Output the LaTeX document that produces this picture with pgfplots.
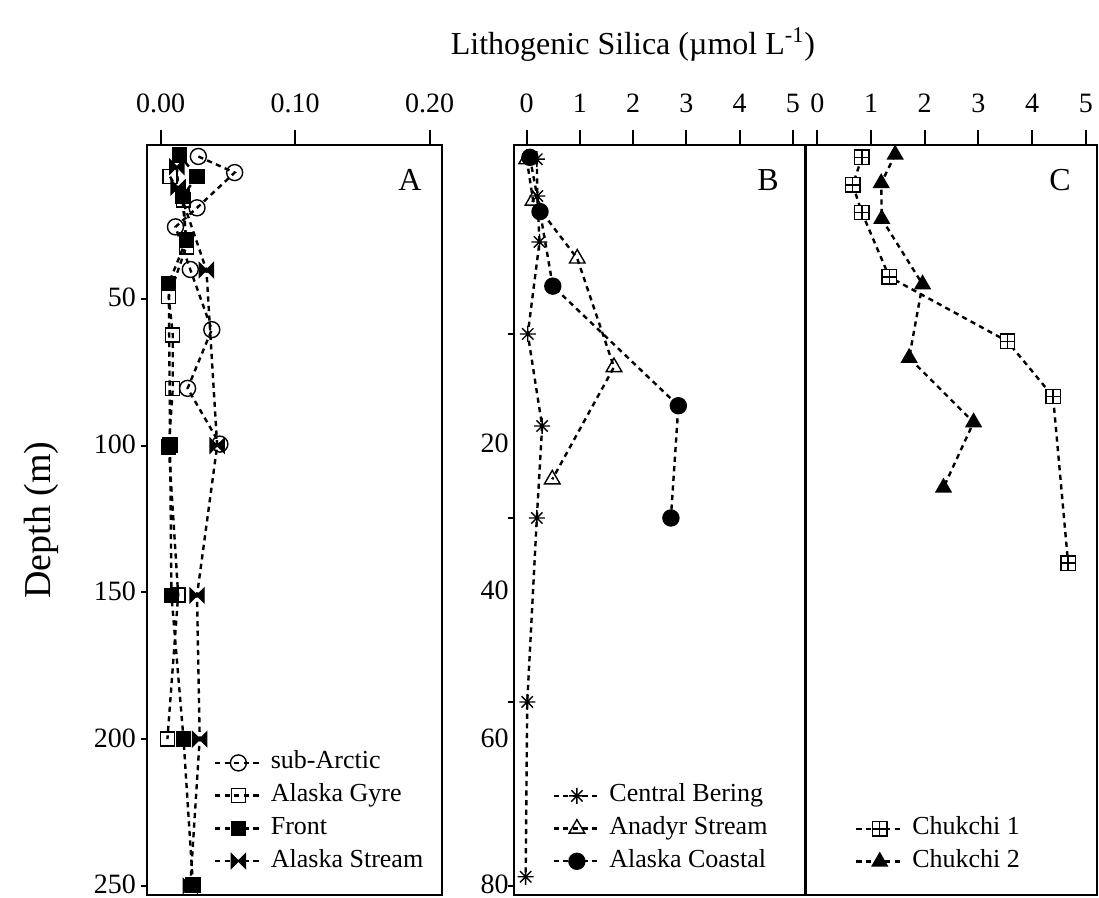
\documentclass[border=0pt]{standalone}
\usepackage{fontspec}
\setmainfont{Liberation Serif}
\usepackage{pgfplots}
\pgfplotsset{compat=1.18}
\usetikzlibrary{plotmarks}

\pgfdeclareplotmark{bowtie}{%
 \pgfpathmoveto{\pgfqpoint{-\pgfplotmarksize}{\pgfplotmarksize}}%
 \pgfpathlineto{\pgfqpoint{\pgfplotmarksize}{-\pgfplotmarksize}}%
 \pgfpathlineto{\pgfqpoint{\pgfplotmarksize}{\pgfplotmarksize}}%
 \pgfpathlineto{\pgfqpoint{-\pgfplotmarksize}{-\pgfplotmarksize}}%
 \pgfpathclose
 \pgfusepathqfillstroke}
\pgfdeclareplotmark{ast8}{%
 \pgfpathmoveto{\pgfqpoint{0pt}{\pgfplotmarksize}}\pgfpathlineto{\pgfqpoint{0pt}{-\pgfplotmarksize}}%
 \pgfpathmoveto{\pgfqpoint{\pgfplotmarksize}{0pt}}\pgfpathlineto{\pgfqpoint{-\pgfplotmarksize}{0pt}}%
 \pgfpathmoveto{\pgfqpoint{0.707\pgfplotmarksize}{0.707\pgfplotmarksize}}\pgfpathlineto{\pgfqpoint{-0.707\pgfplotmarksize}{-0.707\pgfplotmarksize}}%
 \pgfpathmoveto{\pgfqpoint{-0.707\pgfplotmarksize}{0.707\pgfplotmarksize}}\pgfpathlineto{\pgfqpoint{0.707\pgfplotmarksize}{-0.707\pgfplotmarksize}}%
 \pgfusepathqstroke}
\pgfdeclareplotmark{sqplus}{%
 \pgfpathrectanglecorners{\pgfqpoint{-\pgfplotmarksize}{-\pgfplotmarksize}}{\pgfqpoint{\pgfplotmarksize}{\pgfplotmarksize}}%
 \pgfpathmoveto{\pgfqpoint{0pt}{-\pgfplotmarksize}}\pgfpathlineto{\pgfqpoint{0pt}{\pgfplotmarksize}}%
 \pgfpathmoveto{\pgfqpoint{-\pgfplotmarksize}{0pt}}\pgfpathlineto{\pgfqpoint{\pgfplotmarksize}{0pt}}%
 \pgfusepathqfillstroke}

\pgfplotsset{
  panel/.style={
    scale only axis, height=375pt, y dir=reverse,
    axis line style={line width=1pt},
    tick style={line width=1pt, black},
    tick align=outside,
    major tick length=3pt, minor tick length=4pt,
    xtick pos=right, xticklabel pos=right,
    ytick pos=left,
    xtick=\empty,
    extra x tick style={major tick length=7.5pt, grid=none},
    /pgf/number format/assume math mode=true,
    tick label style={font=\fontsize{14}{16}\selectfont},
    xticklabel style={anchor=base, yshift=9pt},
    yticklabel style={inner xsep=2.5pt, inner ysep=0pt, yshift=0.6pt},
    legend style={draw=none, fill=none, font=\fontsize{13}{15}\selectfont,
      cells={anchor=west}, row sep=4.35pt, column sep=4pt,
      nodes={inner sep=0pt, text height=9pt, text depth=3pt}},
    legend cell align=left,
    legend image code/.code={\draw[mark repeat=2,mark phase=2] plot coordinates {(0pt,0pt) (11.65pt,0pt) (23.3pt,0pt)};},
    every axis plot/.append style={black, line width=1.2pt, dash pattern=on 2.6pt off 2.2pt},
  },
}

\begin{document}
\begin{tikzpicture}
\useasboundingbox (0pt,0pt) rectangle (549.5pt,-449pt);

% Panel A
\begin{axis}[panel, at={(73.65pt,-72.5pt)}, anchor=north west, width=147.5pt,
  xmin=-0.00996, xmax=0.2094, ymin=-2.4, ymax=253.1,
  extra x ticks={0,0.1,0.2}, extra x tick labels={0.00,0.10,0.20}, minor xtick={0.05,0.15},
  ytick={50,100,150,200,250},
  legend style={at={(0.204,0.198)}, anchor=north west}]
\addplot[mark=o, mark size=4pt, mark options={solid, line width=0.7pt, fill=white}] coordinates {
 (0.028,1.5) (0.055,7) (0.027,19) (0.011,25.5) (0.022,40) (0.038,60.5) (0.020,80.5) (0.044,99.5)};
\addlegendentry{sub-Arctic}
\addplot[mark=square, mark size=3.5pt, mark options={solid, line width=0.7pt, fill=white}] coordinates {
 (0.007,8.4) (0.017,16.3) (0.019,32.3) (0.006,49.3) (0.009,62.3) (0.009,80.5) (0.006,100.5) (0.013,150.9) (0.005,200)};
\addlegendentry{Alaska Gyre}
\addplot[mark=square*, mark size=3.5pt, mark options={solid, line width=0.7pt, fill=black}] coordinates {
 (0.014,1) (0.027,8.4) (0.016,15.2) (0.019,30) (0.006,44.7) (0.007,99.8) (0.008,151) (0.017,200) (0.024,249.7)};
\addlegendentry{Front}
\addplot[mark=bowtie, mark size=3.5pt, mark options={solid, line width=0.7pt, fill=black}] coordinates {
 (0.012,5) (0.013,12) (0.034,40.2) (0.042,100) (0.027,151) (0.029,200) (0.022,250)};
\addlegendentry{Alaska Stream}
\end{axis}

% Panel B
\begin{axis}[panel, at={(257pt,-72.5pt)}, anchor=north west, width=145.5pt,
  xmin=-0.239, xmax=5.23, ymin=-0.54, ymax=80.98,
  extra x ticks={0,1,2,3,4,5},
  ytick={20,40,60,80}, yticklabels={},
  extra y ticks={32.07,48.04,64.13,80}, extra y tick labels={20,40,60,80},
  extra y tick style={major tick length=0pt, grid=none},
  legend style={at={(0.11,0.154)}, anchor=north west}]
\addplot[mark=ast8, mark size=4pt, mark options={solid, line width=0.7pt}] coordinates {
 (0.19,1) (0.2,5) (0.24,10) (0.02,20) (0.29,30) (0.19,40) (0.01,60) (-0.02,79)};
\addlegendentry{Central Bering}
\addplot[mark=triangle, mark size=4.5pt, mark options={solid, line width=0.7pt, fill=white}] coordinates {
 (0.0,1) (0.12,5.5) (0.95,11.8) (1.64,23.6) (0.48,35.8)};
\addlegendentry{Anadyr Stream}
\addplot[mark=*, mark size=4pt, mark options={solid, line width=0.7pt, fill=black}] coordinates {
 (0.06,0.8) (0.25,6.7) (0.49,14.8) (2.85,27.8) (2.71,40)};
\addlegendentry{Alaska Coastal}
\end{axis}

% Panel C
\begin{axis}[panel, at={(402.85pt,-72.5pt)}, anchor=north west, width=145.8pt,
  xmin=-0.216, xmax=5.214, ymin=-0.54, ymax=80.98,
  extra x ticks={0,1,2,3,4,5}, ytick=\empty,
  legend style={at={(0.148,0.11)}, anchor=north west}]
\addplot[mark=sqplus, mark size=3.6pt, mark options={solid, line width=0.7pt, fill=white}] coordinates {
 (0.83,0.8) (0.66,3.8) (0.83,6.8) (1.34,13.8) (3.54,20.8) (4.39,26.8) (4.67,44.9)};
\addlegendentry{Chukchi 1}
\addplot[mark=triangle*, mark size=4.3pt, mark options={solid, line width=0.7pt, fill=black}] coordinates {
 (1.45,0.5) (1.19,3.6) (1.2,7.5) (1.96,14.6) (1.71,22.6) (2.91,29.6) (2.35,36.7)};
\addlegendentry{Chukchi 2}
\end{axis}

\node[font=\fontsize{16}{19}\selectfont, anchor=base] at (316.5pt,-27.5pt) {Lithogenic Silica (µmol L\textsuperscript{-1})};
\node[font=\fontsize{19}{22}\selectfont, rotate=90] at (20.5pt,-260pt) {Depth (m)};
\node[font=\fontsize{16}{19}\selectfont] at (205pt,-90pt) {A};
\node[font=\fontsize{16}{19}\selectfont] at (384pt,-90pt) {B};
\node[font=\fontsize{16}{19}\selectfont] at (530pt,-90pt) {C};
\end{tikzpicture}
\end{document}
